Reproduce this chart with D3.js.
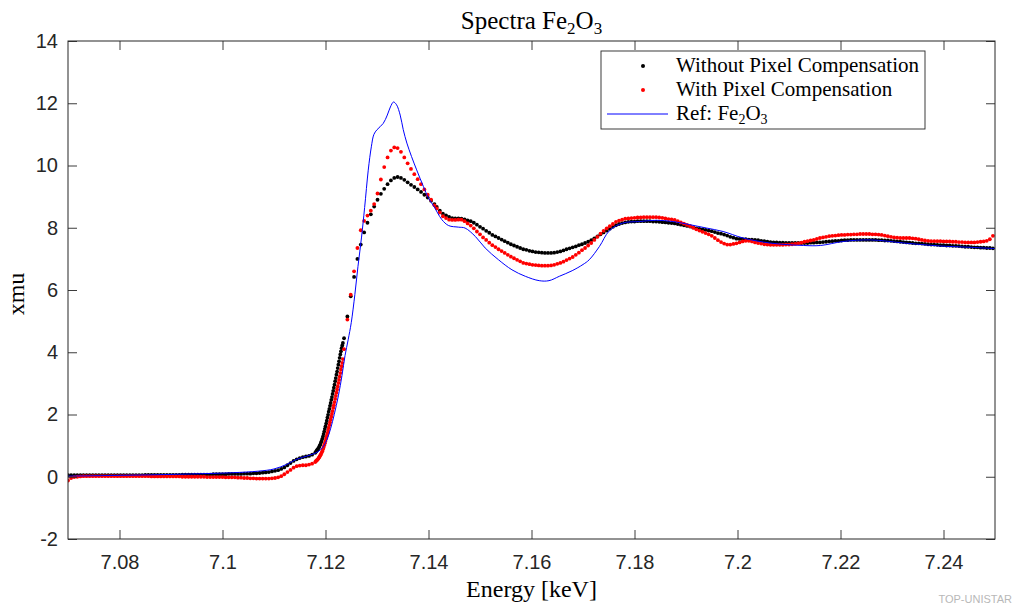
<!DOCTYPE html>
<html><head><meta charset="utf-8">
<script src="https://cdn.jsdelivr.net/npm/d3@7"></script>
<style>body{margin:0;background:#fff}svg{display:block}</style>
</head><body><svg id="c" width="1018" height="607"></svg>
<script>
// ---- data (energies in eV) ----
const energyEv = [
7070,7070.6,7071.2,7071.8,7072.4,7073,7073.6,7074.2,7074.8,7075.4,
7076,7076.6,7077.2,7077.8,7078.4,7079,7079.6,7080.2,7080.8,7081.4,
7082,7082.6,7083.2,7083.8,7084.4,7085,7085.6,7086.2,7086.8,7087.4,
7088,7088.6,7089.2,7089.8,7090.4,7091,7091.6,7092.2,7092.8,7093.4,
7094,7094.6,7095.2,7095.8,7096.4,7097,7097.6,7098.2,7098.8,7099.4,
7100,7100.6,7101.2,7101.8,7102.4,7103,7103.6,7104.2,7104.8,7105.4,
7106,7106.6,7107.2,7107.8,7108.4,7109,7109.6,7110.2,7110.8,7111.4,
7112,7112.6,7113.2,7113.8,7114.4,7115,7115.6,7116.2,7116.8,7117.4,
7118,
7118.125,7118.25,7118.375,7118.5,7118.625,7118.75,7118.875,7119,7119.125,7119.25,
7119.375,7119.5,7119.625,7119.75,7119.875,7120,7120.125,7120.25,7120.375,7120.5,
7120.625,7120.75,7120.875,7121,7121.125,7121.25,7121.375,7121.5,7121.625,7121.75,
7121.875,7122,7122.125,7122.25,7122.375,7122.5,7122.625,7122.75,7122.875,7123,
7123.125,7123.25,7123.375,
7123.6,7124.25,7124.9,7125.55,7126.2,7126.85,7127.5,7128.15,7128.8,7129.45,
7130.1,7130.75,7131.4,7132.05,7132.7,7133.35,7134,7134.65,7135.3,7135.95,
7136.6,7137.25,7137.9,7138.55,7139.2,7139.85,7140.5,7141.15,
7141.6,7142.2,7142.8,7143.4,7144,7144.6,7145.2,7145.8,7146.4,7147,
7147.6,7148.2,7148.8,7149.4,7150,7150.6,7151.2,7151.8,7152.4,7153,
7153.6,7154.2,7154.8,7155.4,7156,7156.6,7157.2,7157.8,7158.4,7159,
7159.6,7160.2,7160.8,7161.4,7162,7162.6,7163.2,7163.8,7164.4,7165,
7165.6,7166.2,7166.8,7167.4,7168,7168.6,7169.2,7169.8,7170.4,7171,
7171.6,7172.2,7172.8,7173.4,7174,7174.6,7175.2,7175.8,7176.4,7177,
7177.6,7178.2,7178.8,7179.4,7180,7180.6,7181.2,7181.8,7182.4,7183,
7183.6,7184.2,7184.8,7185.4,7186,7186.6,7187.2,7187.8,7188.4,7189,
7189.6,7190.2,7190.8,7191.4,7192,7192.6,7193.2,7193.8,7194.4,7195,
7195.6,7196.2,7196.8,7197.4,7198,7198.6,7199.2,7199.8,7200.4,7201,
7201.6,7202.2,7202.8,7203.4,7204,7204.6,7205.2,7205.8,7206.4,7207,
7207.6,7208.2,7208.8,7209.4,7210,7210.6,7211.2,7211.8,7212.4,7213,
7213.6,7214.2,7214.8,7215.4,7216,7216.6,7217.2,7217.8,7218.4,7219,
7219.6,7220.2,7220.8,7221.4,7222,7222.6,7223.2,7223.8,7224.4,7225,
7225.6,7226.2,7226.8,7227.4,7228,7228.6,7229.2,7229.8,7230.4,7231,
7231.6,7232.2,7232.8,7233.4,7234,7234.6,7235.2,7235.8,7236.4,7237,
7237.6,7238.2,7238.8,7239.4,7240,7240.6,7241.2,7241.8,7242.4,7243,
7243.6,7244.2,7244.8,7245.4,7246,7246.6,7247.2,7247.8,7248.4,7249,
7249.6
];
const xmuWithout = [
0.05,0.05,0.05,0.05,0.05,0.05,0.05,0.05,0.05,0.05,
0.05,0.05,0.05,0.05,0.05,0.05,0.05,0.05,0.05,0.05,
0.05,0.05,0.05,0.05,0.05,0.06,0.06,0.06,0.06,0.06,
0.06,0.06,0.06,0.06,0.06,0.06,0.06,0.07,0.07,0.07,
0.07,0.07,0.07,0.07,0.07,0.07,0.07,0.08,0.08,0.08,
0.08,0.08,0.09,0.09,0.09,0.09,0.09,0.10,0.10,0.10,
0.11,0.11,0.12,0.13,0.14,0.15,0.17,0.19,0.21,0.25,
0.30,0.37,0.44,0.51,0.56,0.60,0.63,0.65,0.67,0.71,
0.77,
0.80,0.83,0.86,0.88,0.92,0.95,1.00,1.04,1.10,1.15,
1.22,1.29,1.37,1.45,1.54,1.62,1.71,1.80,1.90,1.99,
2.09,2.18,2.28,2.37,2.47,2.56,2.66,2.76,2.86,2.96,
3.07,3.17,3.28,3.38,3.49,3.60,3.71,3.82,3.93,4.03,
4.13,4.22,4.30,
4.45,5.15,5.80,6.42,7.00,7.46,7.85,8.16,8.43,8.68,
8.90,9.09,9.25,9.40,9.52,9.60,9.63,9.60,9.54,9.46,
9.38,9.31,9.23,9.15,9.06,8.97,8.87,8.76,
8.67,8.55,8.45,8.40,8.35,8.31,8.30,8.30,8.29,8.27,
8.24,8.21,8.16,8.10,8.03,7.97,7.90,7.84,7.77,7.72,
7.67,7.62,7.57,7.52,7.47,7.43,7.39,7.35,7.31,7.29,
7.26,7.24,7.22,7.21,7.20,7.19,7.19,7.19,7.20,7.22,
7.24,7.27,7.31,7.34,7.37,7.40,7.44,7.47,7.51,7.55,
7.60,7.66,7.72,7.79,7.85,7.91,7.97,8.03,8.08,8.12,
8.15,8.17,8.19,8.20,8.20,8.21,8.21,8.21,8.21,8.21,
8.20,8.20,8.19,8.18,8.17,8.16,8.15,8.14,8.12,8.10,
8.08,8.06,8.04,8.01,7.98,7.96,7.95,7.93,7.91,7.89,
7.86,7.83,7.81,7.78,7.75,7.71,7.68,7.65,7.64,7.63,
7.63,7.62,7.62,7.61,7.60,7.58,7.57,7.55,7.54,7.53,
7.53,7.52,7.52,7.51,7.51,7.51,7.51,7.51,7.51,7.51,
7.51,7.52,7.52,7.53,7.53,7.54,7.55,7.56,7.57,7.58,
7.58,7.59,7.60,7.60,7.61,7.61,7.61,7.61,7.61,7.61,
7.61,7.61,7.61,7.60,7.60,7.59,7.59,7.58,7.57,7.56,
7.55,7.54,7.53,7.52,7.51,7.50,7.50,7.49,7.48,7.47,
7.46,7.46,7.45,7.44,7.44,7.43,7.43,7.42,7.42,7.41,
7.40,7.39,7.39,7.38,7.37,7.37,7.36,7.36,7.35,7.35,
7.34
];
const xmuWith = [
-0.12,-0.04,-0.01,0.00,0.01,0.02,0.02,0.02,0.02,0.02,
0.02,0.02,0.02,0.02,0.02,0.02,0.02,0.02,0.02,0.02,
0.02,0.02,0.02,0.02,0.02,0.02,0.02,0.01,0.01,0.01,
0.01,0.01,0.01,0.01,0.01,0.01,0.01,0.00,0.00,0.00,
0.00,0.00,0.00,0.00,0.00,-0.01,-0.01,-0.01,-0.01,-0.01,
-0.01,-0.02,-0.02,-0.02,-0.02,-0.03,-0.03,-0.04,-0.04,-0.05,
-0.05,-0.06,-0.06,-0.06,-0.06,-0.06,-0.05,-0.04,-0.02,0.02,
0.08,0.15,0.22,0.29,0.34,0.36,0.37,0.37,0.39,0.42,
0.47,
0.50,0.52,0.54,0.56,0.59,0.62,0.65,0.69,0.73,0.77,
0.82,0.88,0.94,1.01,1.08,1.15,1.23,1.31,1.39,1.48,
1.57,1.66,1.75,1.84,1.93,2.02,2.11,2.21,2.30,2.40,
2.50,2.60,2.70,2.80,2.90,3.01,3.11,3.22,3.33,3.44,
3.55,3.66,3.78,
4.10,5.05,5.85,6.60,7.35,7.92,8.22,8.39,8.55,8.76,
9.10,9.55,9.95,10.26,10.48,10.58,10.56,10.44,10.26,10.07,
9.89,9.72,9.56,9.40,9.23,9.06,8.90,8.72,
8.62,8.49,8.37,8.31,8.26,8.25,8.25,8.26,8.26,8.21,
8.14,8.07,7.98,7.88,7.79,7.69,7.61,7.52,7.44,7.38,
7.31,7.25,7.19,7.13,7.07,7.02,6.97,6.92,6.87,6.85,
6.83,6.81,6.80,6.79,6.78,6.78,6.78,6.79,6.81,6.84,
6.87,6.91,6.96,7.01,7.06,7.13,7.20,7.28,7.35,7.43,
7.51,7.61,7.71,7.81,7.90,7.98,8.05,8.12,8.19,8.23,
8.26,8.29,8.30,8.31,8.32,8.33,8.33,8.34,8.34,8.34,
8.34,8.34,8.33,8.32,8.30,8.28,8.27,8.25,8.21,8.17,
8.13,8.09,8.05,8.00,7.95,7.91,7.87,7.83,7.79,7.74,
7.67,7.60,7.54,7.49,7.46,7.46,7.48,7.50,7.53,7.56,
7.58,7.58,7.56,7.53,7.51,7.49,7.47,7.46,7.45,7.45,
7.45,7.45,7.45,7.46,7.46,7.47,7.48,7.50,7.52,7.55,
7.57,7.59,7.61,7.64,7.67,7.69,7.71,7.73,7.74,7.75,
7.76,7.77,7.77,7.78,7.78,7.79,7.79,7.80,7.80,7.80,
7.80,7.79,7.79,7.78,7.77,7.75,7.73,7.71,7.69,7.68,
7.67,7.67,7.67,7.67,7.66,7.65,7.63,7.61,7.59,7.58,
7.57,7.57,7.57,7.57,7.56,7.56,7.56,7.55,7.55,7.54,
7.54,7.53,7.53,7.53,7.53,7.54,7.55,7.56,7.58,7.63,
7.74
];
const refEnergyEv = [
7070,7078,7086,7094,7102,7107,7110,7112.5,7114.5,7116.5,
7118.5,7119.5,7120.3,7121,7121.7,7122.5,7123.2,7123.8,7124.4,7125,
7125.7,7126.3,7127,7127.6,7128.3,7128.9,7129.4,7130,7131.2,7132,
7132.6,7133.2,7133.8,7134.5,7135.1,7135.8,7136.7,7137.7,7139,7140,
7141,7142.6,7143.9,7145.8,7147.1,7149.1,7151,7153.6,7156.2,7158.8,
7161.5,7163.4,7165.4,7167.9,7170,7171.2,7173.2,7175.1,7177.7,7181,
7184.2,7187.5,7190.7,7194,7197.2,7201.1,7206.3,7212.8,7216.1,7220.6,
7225.8,7232.3,7238.8,7245.4,7250
];
const refXmu = [
0.02,0.04,0.06,0.09,0.13,0.18,0.25,0.40,0.57,0.67,
0.80,0.95,1.20,1.55,2.00,2.60,3.25,3.90,4.40,4.95,
5.85,6.75,7.70,8.65,9.85,10.60,11.00,11.15,11.35,11.62,
11.88,12.04,11.95,11.62,11.15,10.72,10.29,9.86,9.33,8.95,
8.70,8.26,8.07,8.02,7.99,7.72,7.35,6.97,6.65,6.44,
6.30,6.30,6.44,6.62,6.82,6.97,7.40,7.90,8.15,8.20,
8.24,8.20,8.10,7.99,7.88,7.67,7.51,7.43,7.43,7.56,
7.61,7.51,7.42,7.37,7.33
];
const xTicks = [7.08,7.10,7.12,7.14,7.16,7.18,7.20,7.22,7.24];
const xTickLabels = ["7.08","7.1","7.12","7.14","7.16","7.18","7.2","7.22","7.24"];
const yTicks = [-2,0,2,4,6,8,10,12,14];
const yTickLabels = ["-2","0","2","4","6","8","10","12","14"];
const legendLabels = ["Without Pixel Compensation","With Pixel Compensation","Ref: Fe"];

// ---- drawing ----
const svg = d3.select("#c");
const M = {l:68, r:995, t:41, b:539};
const axisCol = "#262626";
const x = d3.scaleLinear().domain([7.07,7.25]).range([M.l,M.r]);
const y = d3.scaleLinear().domain([-2,14]).range([M.b,M.t]);
const kev = ev => ev/1000;

svg.append("rect").attr("width",1018).attr("height",607).attr("fill","#fff");
svg.append("defs").append("clipPath").attr("id","clip")
  .append("rect").attr("x",M.l).attr("y",M.t).attr("width",M.r-M.l).attr("height",M.b-M.t);

const plot = svg.append("g").attr("clip-path","url(#clip)");
const seriesW = energyEv.map((e,i)=>({e:kev(e), v:xmuWithout[i]}));
const seriesR = energyEv.map((e,i)=>({e:kev(e), v:xmuWith[i]}));
const refS = refEnergyEv.map((e,i)=>({e:kev(e), v:refXmu[i]}));
const R = 1.9;
plot.append("g").selectAll("circle").data(seriesW).join("circle")
  .attr("cx",d=>x(d.e)).attr("cy",d=>y(d.v)).attr("r",R).attr("fill","#000");
plot.append("g").selectAll("circle").data(seriesR).join("circle")
  .attr("cx",d=>x(d.e)).attr("cy",d=>y(d.v)).attr("r",R).attr("fill","#ff0000");
plot.append("path").datum(refS)
  .attr("d", d3.line().x(d=>x(d.e)).y(d=>y(d.v)).curve(d3.curveCatmullRom.alpha(0.5)))
  .attr("fill","none").attr("stroke","#0000ff").attr("stroke-width",1);

// axes
const tickFont = "'Liberation Sans', Arial, Helvetica, sans-serif";
function styleAxis(g){
  g.select(".domain").remove();
  g.selectAll(".tick line").attr("stroke",axisCol).attr("stroke-width",0.9);
  g.selectAll(".tick text").attr("fill",axisCol).style("font-family",tickFont).style("font-size","20px");
}
svg.append("g").attr("transform",`translate(0,${M.b})`)
  .call(d3.axisBottom(x).tickValues(xTicks).tickFormat((d,i)=>xTickLabels[i]).tickSize(-9).tickPadding(16))
  .call(styleAxis);
svg.append("g").attr("transform",`translate(0,${M.t})`)
  .call(d3.axisTop(x).tickValues(xTicks).tickFormat("").tickSize(-9))
  .call(styleAxis);
svg.append("g").attr("transform",`translate(${M.l},0)`)
  .call(d3.axisLeft(y).tickValues(yTicks).tickFormat((d,i)=>yTickLabels[i]).tickSize(-9).tickPadding(10))
  .call(styleAxis);
svg.append("g").attr("transform",`translate(${M.r},0)`)
  .call(d3.axisRight(y).tickValues(yTicks).tickFormat("").tickSize(-9))
  .call(styleAxis);
svg.append("rect").attr("x",M.l).attr("y",M.t).attr("width",M.r-M.l).attr("height",M.b-M.t)
  .attr("fill","none").attr("stroke",axisCol).attr("stroke-width",1);

// texts
const serif = "'Liberation Serif', 'Times New Roman', serif";
const title = svg.append("text").attr("x",(M.l+M.r)/2).attr("y",29).attr("text-anchor","middle")
  .style("font-family",serif).style("font-size","25px").attr("fill","#000");
title.append("tspan").text("Spectra Fe");
title.append("tspan").attr("dy",5).style("font-size","17px").text("2");
title.append("tspan").attr("dy",-5).text("O");
title.append("tspan").attr("dy",5).style("font-size","17px").text("3");

svg.append("text").attr("x",(M.l+M.r)/2).attr("y",597).attr("text-anchor","middle")
  .style("font-family",serif).style("font-size","24px").attr("fill","#000").text("Energy [keV]");
svg.append("text").attr("transform","translate(24,294) rotate(-90)").attr("text-anchor","middle")
  .style("font-family",serif).style("font-size","24px").attr("fill","#000").text("xmu");

// legend
const lg = svg.append("g");
lg.append("rect").attr("x",601).attr("y",51).attr("width",324).attr("height",78)
  .attr("fill","#fff").attr("stroke",axisCol).attr("stroke-width",0.9);
const rowsY = [66,90,114];
lg.append("circle").attr("cx",643).attr("cy",rowsY[0]).attr("r",2).attr("fill","#000");
lg.append("circle").attr("cx",643).attr("cy",rowsY[1]).attr("r",2).attr("fill","#ff0000");
lg.append("line").attr("x1",607).attr("x2",668).attr("y1",rowsY[2]).attr("y2",rowsY[2])
  .attr("stroke","#0000ff").attr("stroke-width",1);
legendLabels.forEach((t,i)=>{
  const tx = lg.append("text").attr("x",676).attr("y",rowsY[i]+6)
    .style("font-family",serif).style("font-size","21px").attr("fill","#000");
  tx.append("tspan").text(t);
  if(i===2){
    tx.append("tspan").attr("dy",4).style("font-size","14px").text("2");
    tx.append("tspan").attr("dy",-4).text("O");
    tx.append("tspan").attr("dy",4).style("font-size","14px").text("3");
  }
});

// watermark
svg.append("text").attr("x",1012).attr("y",603).attr("text-anchor","end")
  .style("font-family","'Liberation Sans', Arial, sans-serif").style("font-size","11px")
  .attr("fill","#b8b8b8").text("TOP-UNISTAR");
</script></body></html>
